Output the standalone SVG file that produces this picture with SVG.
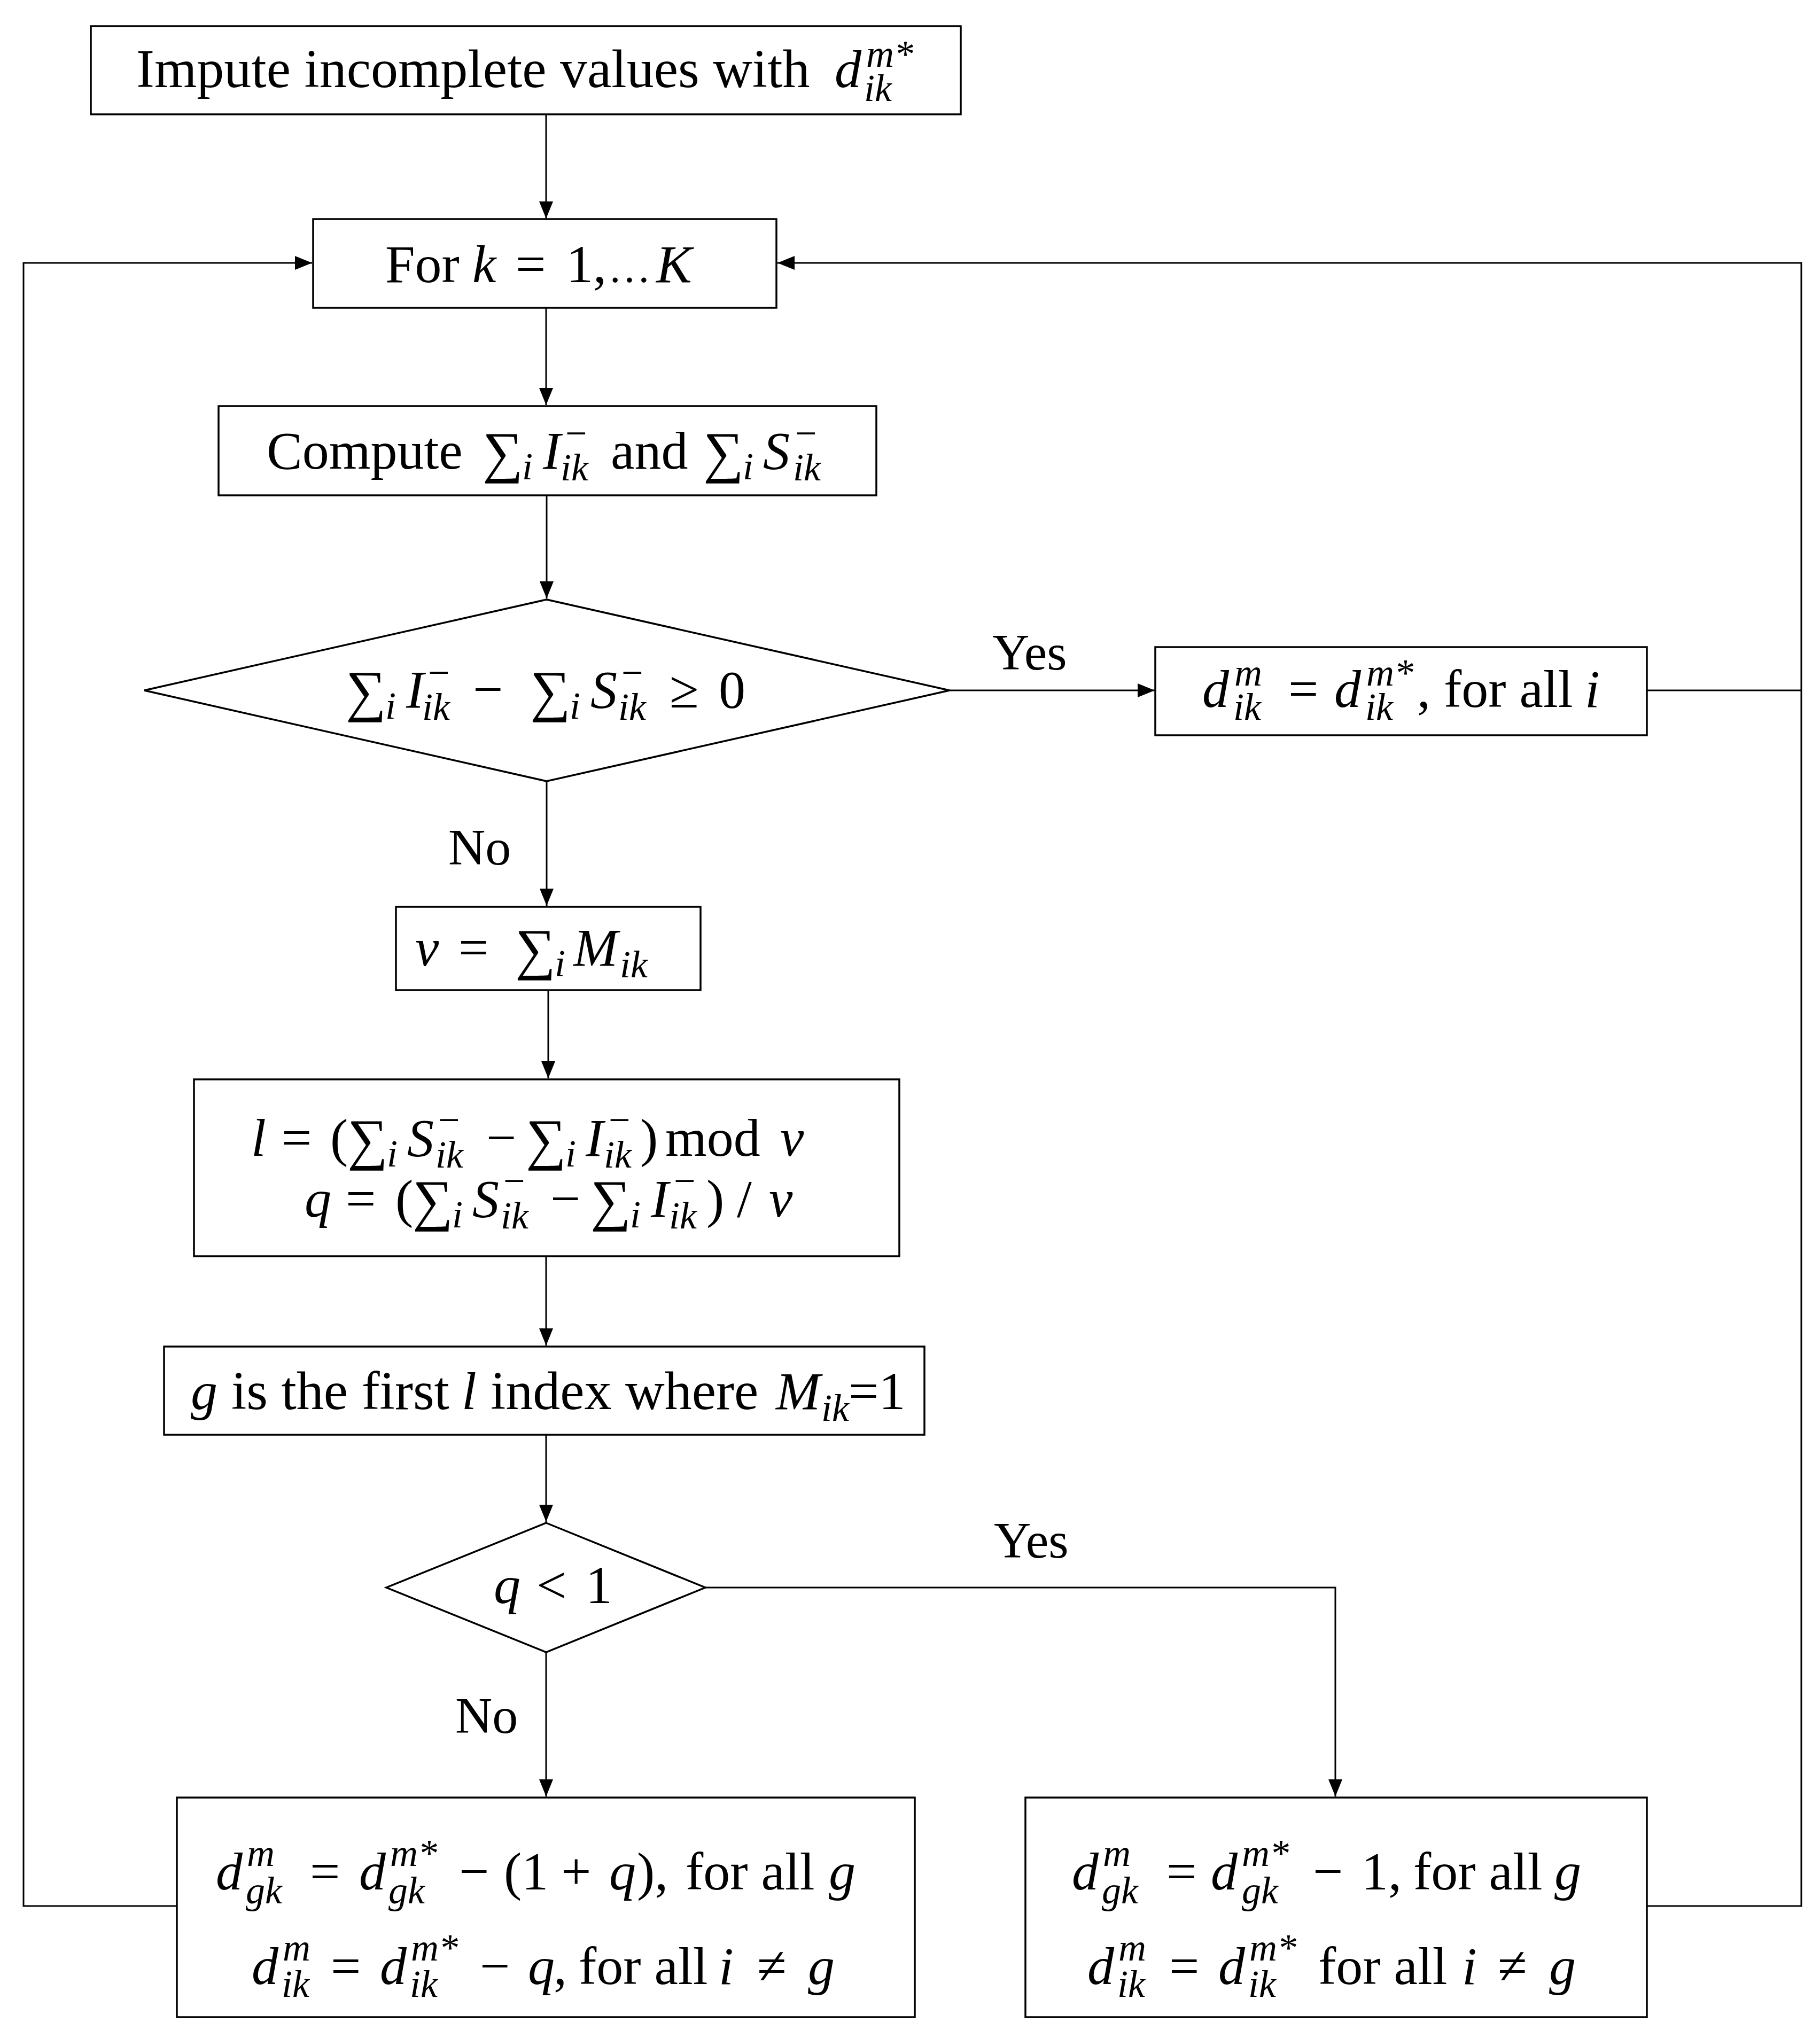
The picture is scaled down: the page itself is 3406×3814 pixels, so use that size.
<svg xmlns="http://www.w3.org/2000/svg" width="3406" height="3814" viewBox="0 0 3406 3814">
<style>
.box{fill:#fff;stroke:#000;stroke-width:3.5}
.ln{fill:none;stroke:#000;stroke-width:3}
text{font-family:"Liberation Serif","DejaVu Serif",serif;font-size:100px;fill:#000}
.i{font-style:italic}
.s{font-size:72px;font-style:italic}
.sr{font-size:72px}
.sg{font-size:106px}
.lbl{font-size:96px}
</style>
<defs>
<marker id="ar" markerUnits="userSpaceOnUse" markerWidth="34" markerHeight="28" refX="32" refY="13" orient="auto">
<path d="M0,0 L32,13 L0,26 z" fill="#000"/>
</marker>
</defs>
<rect width="3406" height="3814" fill="#fff"/>

<g id="connectors">
<path class="ln" d="M1022,214 V409" marker-end="url(#ar)"/>
<path class="ln" d="M1022,576 V758" marker-end="url(#ar)"/>
<path class="ln" d="M1023,927 V1120" marker-end="url(#ar)"/>
<path class="ln" d="M1777,1292 H2161" marker-end="url(#ar)"/>
<path class="ln" d="M3082,1292 H3371 V492 H1455" marker-end="url(#ar)"/>
<path class="ln" d="M1023,1462 V1695" marker-end="url(#ar)"/>
<path class="ln" d="M1026,1853 V2018" marker-end="url(#ar)"/>
<path class="ln" d="M1022,2351 V2518" marker-end="url(#ar)"/>
<path class="ln" d="M1022,2685 V2848" marker-end="url(#ar)"/>
<path class="ln" d="M1320,2971 H2499 V3362" marker-end="url(#ar)"/>
<path class="ln" d="M1022,3092 V3362" marker-end="url(#ar)"/>
<path class="ln" d="M331,3567 H44 V492 H584" marker-end="url(#ar)"/>
<path class="ln" d="M3082,3567 H3371 V1292"/>
<text class="lbl" x="1857" y="1253">Yes</text>
<text class="lbl" x="839" y="1618">No</text>
<text class="lbl" x="1860" y="2915">Yes</text>
<text class="lbl" x="852" y="3243">No</text>
</g>

<g id="n1">
<rect class="box" x="170" y="49" width="1628" height="165"/>
<text><tspan x="255" y="163" style="font-size:102px">Impute incomplete values with</tspan><tspan class="i" x="1562" y="163">d</tspan><tspan class="s" x="1621" y="125">m*</tspan><tspan class="s" x="1617" y="189">ik</tspan></text>
</g>

<g id="n2">
<rect class="box" x="586" y="410" width="867" height="166"/>
<text><tspan x="721" y="528">For</tspan><tspan class="i" x="884" y="528">k</tspan><tspan x="965" y="528">=</tspan><tspan x="1060" y="528">1,</tspan><tspan x="1138" y="528" style="font-size:80px">…</tspan><tspan class="i" x="1228" y="528">K</tspan></text>
</g>

<g id="n3">
<rect class="box" x="409" y="760" width="1231" height="167"/>
<text><tspan x="499" y="877">Compute</tspan><tspan class="sg" x="903" y="882">∑</tspan><tspan class="s" x="977" y="897">i</tspan><tspan class="i" x="1016" y="877">I</tspan><tspan class="sr" x="1058" y="835">−</tspan><tspan class="s" x="1049" y="899">ik</tspan><tspan x="1143" y="877">and</tspan><tspan class="sg" x="1316" y="882">∑</tspan><tspan class="s" x="1390" y="897">i</tspan><tspan class="i" x="1428" y="877">S</tspan><tspan class="sr" x="1488" y="835">−</tspan><tspan class="s" x="1484" y="899">ik</tspan></text>
</g>

<g id="n4">
<polygon class="box" points="1023,1122 1777,1292 1023,1462 270,1292"/>
<text><tspan class="sg" x="647" y="1329">∑</tspan><tspan class="s" x="721" y="1345">i</tspan><tspan class="i" x="760" y="1324">I</tspan><tspan class="sr" x="801" y="1283">−</tspan><tspan class="s" x="790" y="1347">ik</tspan><tspan x="885" y="1324">−</tspan><tspan class="sg" x="992" y="1329">∑</tspan><tspan class="s" x="1066" y="1345">i</tspan><tspan class="i" x="1105" y="1324">S</tspan><tspan class="sr" x="1163" y="1283">−</tspan><tspan class="s" x="1157" y="1347">ik</tspan><tspan x="1253" y="1324">≥</tspan><tspan x="1345" y="1324">0</tspan></text>
</g>

<g id="n5">
<rect class="box" x="2162" y="1211" width="920" height="165"/>
<text><tspan class="i" x="2250" y="1323">d</tspan><tspan class="s" x="2310" y="1283">m</tspan><tspan class="s" x="2308" y="1347">ik</tspan><tspan x="2411" y="1323">=</tspan><tspan class="i" x="2497" y="1323">d</tspan><tspan class="s" x="2557" y="1283">m*</tspan><tspan class="s" x="2555" y="1347">ik</tspan><tspan x="2652" y="1323">, for all</tspan><tspan class="i" x="2966" y="1323">i</tspan></text>
</g>

<g id="n6">
<rect class="box" x="741" y="1697" width="570" height="156"/>
<text><tspan class="i" x="777" y="1807">v</tspan><tspan x="858" y="1807">=</tspan><tspan class="sg" x="964" y="1812">∑</tspan><tspan class="s" x="1038" y="1827">i</tspan><tspan class="i" x="1073" y="1807">M</tspan><tspan class="s" x="1160" y="1829">ik</tspan></text>
</g>

<g id="n7">
<rect class="box" x="363" y="2020" width="1320" height="331"/>
<text><tspan class="i" x="470" y="2163">l</tspan><tspan x="527" y="2163">=</tspan><tspan x="618" y="2163">(</tspan><tspan class="sg" x="650" y="2168">∑</tspan><tspan class="s" x="724" y="2183">i</tspan><tspan class="i" x="762" y="2163">S</tspan><tspan class="sr" x="820" y="2120">−</tspan><tspan class="s" x="815" y="2185">ik</tspan><tspan x="910" y="2163">−</tspan><tspan class="sg" x="984" y="2168">∑</tspan><tspan class="s" x="1058" y="2183">i</tspan><tspan class="i" x="1096" y="2163">I</tspan><tspan class="sr" x="1139" y="2120">−</tspan><tspan class="s" x="1130" y="2185">ik</tspan><tspan x="1198" y="2163">)</tspan><tspan x="1245" y="2163">mod</tspan><tspan class="i" x="1460" y="2163">v</tspan></text>
<text><tspan class="i" x="570" y="2277">q</tspan><tspan x="647" y="2277">=</tspan><tspan x="740" y="2277">(</tspan><tspan class="sg" x="772" y="2282">∑</tspan><tspan class="s" x="846" y="2297">i</tspan><tspan class="i" x="884" y="2277">S</tspan><tspan class="sr" x="942" y="2234">−</tspan><tspan class="s" x="937" y="2299">ik</tspan><tspan x="1030" y="2277">−</tspan><tspan class="sg" x="1105" y="2282">∑</tspan><tspan class="s" x="1179" y="2297">i</tspan><tspan class="i" x="1218" y="2277">I</tspan><tspan class="sr" x="1261" y="2234">−</tspan><tspan class="s" x="1252" y="2299">ik</tspan><tspan x="1322" y="2277">)</tspan><tspan x="1379" y="2277">/</tspan><tspan class="i" x="1439" y="2277">v</tspan></text>
</g>

<g id="n8">
<rect class="box" x="307" y="2520" width="1423" height="165"/>
<text><tspan class="i" x="357" y="2637">g</tspan><tspan x="433" y="2637" style="font-size:102px">is the first</tspan><tspan class="i" x="864" y="2637">l</tspan><tspan x="918" y="2637" style="font-size:102px">index where</tspan><tspan class="i" x="1452" y="2637">M</tspan><tspan class="s" x="1537" y="2659">ik</tspan><tspan x="1588" y="2637">=1</tspan></text>
</g>

<g id="n9">
<polygon class="box" points="1022,2850 1320,2971 1022,3092 723,2971"/>
<text><tspan class="i" x="924" y="3000">q</tspan><tspan x="1004" y="3000">&lt;</tspan><tspan x="1096" y="3000">1</tspan></text>
</g>

<g id="n10">
<rect class="box" x="331" y="3364" width="1381" height="411"/>
<text><tspan class="i" x="404" y="3536">d</tspan><tspan class="s" x="462" y="3492">m</tspan><tspan class="s" x="460" y="3562">gk</tspan><tspan x="580" y="3536">=</tspan><tspan class="i" x="672" y="3536">d</tspan><tspan class="s" x="730" y="3492">m*</tspan><tspan class="s" x="727" y="3562">gk</tspan><tspan x="859" y="3536">−</tspan><tspan x="943" y="3536">(1</tspan><tspan x="1050" y="3536">+</tspan><tspan class="i" x="1140" y="3536">q</tspan><tspan x="1192" y="3536">),</tspan><tspan x="1283" y="3536">for all</tspan><tspan class="i" x="1551" y="3536">g</tspan></text>
<text><tspan class="i" x="471" y="3713">d</tspan><tspan class="s" x="529" y="3669">m</tspan><tspan class="s" x="527" y="3737">ik</tspan><tspan x="619" y="3713">=</tspan><tspan class="i" x="711" y="3713">d</tspan><tspan class="s" x="769" y="3669">m*</tspan><tspan class="s" x="767" y="3737">ik</tspan><tspan x="898" y="3713">−</tspan><tspan class="i" x="988" y="3713">q</tspan><tspan x="1036" y="3713">,</tspan><tspan x="1083" y="3713">for all</tspan><tspan class="i" x="1345" y="3713">i</tspan><tspan x="1417" y="3713">≠</tspan><tspan class="i" x="1512" y="3713">g</tspan></text>
</g>

<g id="n11">
<rect class="box" x="1919" y="3364" width="1163" height="411"/>
<text><tspan class="i" x="2006" y="3536">d</tspan><tspan class="s" x="2064" y="3492">m</tspan><tspan class="s" x="2062" y="3562">gk</tspan><tspan x="2183" y="3536">=</tspan><tspan class="i" x="2266" y="3536">d</tspan><tspan class="s" x="2324" y="3492">m*</tspan><tspan class="s" x="2324" y="3562">gk</tspan><tspan x="2457" y="3536">−</tspan><tspan x="2548" y="3536">1,</tspan><tspan x="2645" y="3536">for all</tspan><tspan class="i" x="2909" y="3536">g</tspan></text>
<text><tspan class="i" x="2035" y="3713">d</tspan><tspan class="s" x="2093" y="3669">m</tspan><tspan class="s" x="2091" y="3737">ik</tspan><tspan x="2188" y="3713">=</tspan><tspan class="i" x="2280" y="3713">d</tspan><tspan class="s" x="2338" y="3669">m*</tspan><tspan class="s" x="2336" y="3737">ik</tspan><tspan x="2467" y="3713">for all</tspan><tspan class="i" x="2736" y="3713">i</tspan><tspan x="2803" y="3713">≠</tspan><tspan class="i" x="2899" y="3713">g</tspan></text>
</g>
</svg>
